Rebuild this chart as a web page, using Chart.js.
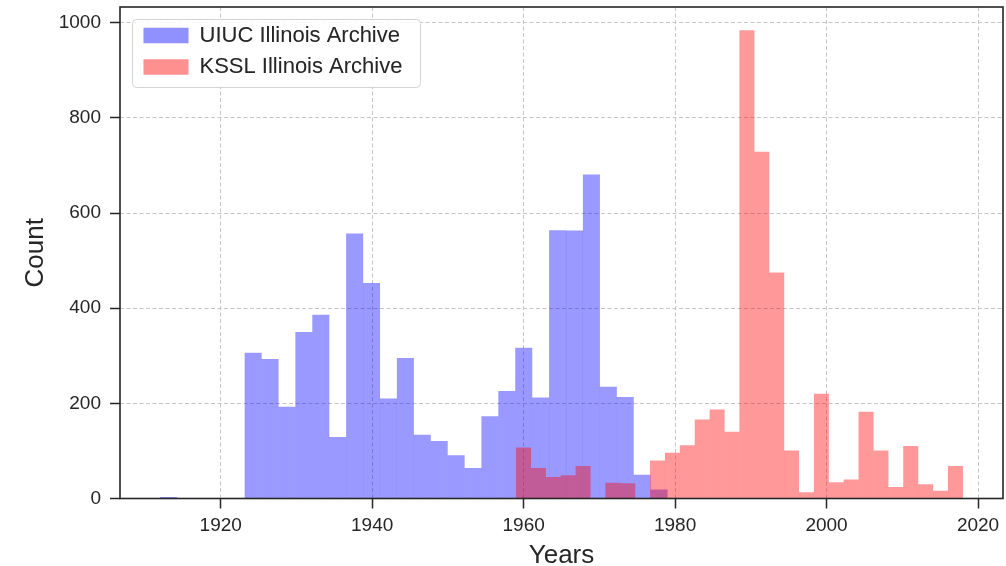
<!DOCTYPE html>
<html>
<head>
<meta charset="utf-8">
<title>UIUC and KSSL Illinois Archive sample years</title>
<script src="https://cdn.jsdelivr.net/npm/chart.js@4.4.1/dist/chart.umd.min.js"></script>
<style>
  html, body { margin: 0; padding: 0; background: #ffffff; }
  #chart { display: block; }
</style>
</head>
<body>
<canvas id="chart" width="1006" height="566"></canvas>
<script>
// Histogram data: each archive is binned into 30 equal-width bins over its own year range.
const seriesNames = ['UIUC Illinois Archive', 'KSSL Illinois Archive'];
const uiucYearRange = [1912, 1979];
const ksslYearRange = [1959, 2018];
const uiucCounts = [3, 0, 0, 0, 0, 306, 293, 193, 350, 386, 129, 557, 453, 210, 295,
                    134, 121, 91, 64, 173, 226, 317, 212, 564, 563, 681, 235, 213, 50, 19];
const ksslCounts = [107, 64, 45, 49, 68, 0, 33, 32, 0, 80, 96, 112, 166, 187, 140,
                    984, 729, 475, 101, 13, 220, 34, 40, 182, 101, 24, 110, 30, 16, 68];
const xTickValues = [1920, 1940, 1960, 1980, 2000, 2020];
const yTickValues = [0, 200, 400, 600, 800, 1000];
const xTitle = 'Years';
const yTitle = 'Count';

const FONT = "'Liberation Sans', Arial, Helvetica, sans-serif";
const INK = '#262626';

// Bin centres for a bar per bin.
function toBins(range, counts) {
  const width = (range[1] - range[0]) / counts.length;
  return counts.map((c, i) => ({ x: range[0] + (i + 0.5) * width, y: c }));
}

// Axis limits with 5% margins around the data, as a default histogram plot does.
const dataLo = Math.min(uiucYearRange[0], ksslYearRange[0]);
const dataHi = Math.max(uiucYearRange[1], ksslYearRange[1]);
const xPad = 0.05 * (dataHi - dataLo);
const xMin = dataLo - xPad;
const xMax = dataHi + xPad;
const yMax = 1.05 * Math.max(...uiucCounts, ...ksslCounts);

// Full box around the plot area plus a framed legend background.
const frameAndLegendBox = {
  id: 'frameAndLegendBox',
  afterLayout(chart) {
    const lg = chart.legend, ca = chart.chartArea;
    if (!lg) return;
    const w = lg.width, h = lg.height;
    lg.left = ca.left + 14;
    lg.top = ca.top + 8;
    lg.right = lg.left + w;
    lg.bottom = lg.top + h;
  },
  beforeDatasetsDraw(chart) {
    const ctx = chart.ctx, ca = chart.chartArea;
    const x = ca.left + 12.5, y = ca.top + 12.5, w = 288, h = 68, r = 4;
    ctx.save();
    ctx.beginPath();
    ctx.moveTo(x + r, y);
    ctx.arcTo(x + w, y, x + w, y + h, r);
    ctx.arcTo(x + w, y + h, x, y + h, r);
    ctx.arcTo(x, y + h, x, y, r);
    ctx.arcTo(x, y, x + w, y, r);
    ctx.closePath();
    ctx.fillStyle = 'rgba(255,255,255,0.85)';
    ctx.fill();
    ctx.lineWidth = 1;
    ctx.strokeStyle = '#d4d4d4';
    ctx.stroke();
    ctx.restore();
    chart.legend.draw();
  },
  afterDraw(chart) {
    const ctx = chart.ctx, ca = chart.chartArea;
    ctx.save();
    ctx.strokeStyle = INK;
    ctx.lineWidth = 1.6;
    ctx.strokeRect(ca.left, ca.top, ca.right - ca.left, ca.bottom - ca.top);
    ctx.restore();
  }
};

const gridStyle = {
  color: '#c6c6c6',
  lineWidth: 1,
  offset: false,
  drawTicks: true,
  tickLength: 10,
  tickColor: INK,
  tickWidth: 1.5,
  tickBorderDash: []
};
const borderStyle = { display: false, dash: [4, 2.5] };

new Chart(document.getElementById('chart'), {
  type: 'bar',
  data: {
    datasets: [
      {
        label: seriesNames[0],
        data: toBins(uiucYearRange, uiucCounts),
        xAxisID: 'x',
        order: 2,
        backgroundColor: 'rgba(0,0,255,0.4)',
        borderWidth: 0,
        inflateAmount: 0.06,
        grouped: false,
        barPercentage: 1,
        categoryPercentage: 1
      },
      {
        label: seriesNames[1],
        data: toBins(ksslYearRange, ksslCounts),
        xAxisID: 'x2',
        order: 1,
        backgroundColor: 'rgba(255,0,0,0.4)',
        borderWidth: 0,
        inflateAmount: 0.06,
        grouped: false,
        barPercentage: 1,
        categoryPercentage: 1
      }
    ]
  },
  options: {
    responsive: false,
    animation: false,
    events: [],
    layout: { padding: { top: 7, right: 3, left: 0, bottom: 0 } },
    scales: {
      x: {
        type: 'linear',
        position: 'bottom',
        min: xMin,
        max: xMax,
        offset: false,
        grid: gridStyle,
        border: borderStyle,
        ticks: {
          color: INK,
          font: { family: FONT, size: 19 },
          padding: 6,
          maxRotation: 0,
          callback: v => String(v)
        },
        title: {
          display: true,
          text: xTitle,
          color: INK,
          font: { family: FONT, size: 26, lineHeight: 0.8 },
          padding: { top: 0, bottom: 0 }
        },
        afterBuildTicks: s => { s.ticks = xTickValues.map(v => ({ value: v })); },
        afterFit: s => { s.height = 67.5; s.paddingLeft = 0; s.paddingRight = 0; }
      },
      x2: {
        type: 'linear',
        position: 'bottom',
        min: xMin,
        max: xMax,
        offset: false,
        display: false,
        grid: { offset: false }
      },
      y: {
        type: 'linear',
        min: 0,
        max: yMax,
        grid: gridStyle,
        border: borderStyle,
        ticks: {
          color: INK,
          font: { family: FONT, size: 19 },
          padding: 9,
          callback: v => String(v)
        },
        title: {
          display: true,
          text: yTitle,
          color: INK,
          font: { family: FONT, size: 26, lineHeight: 1.2 },
          padding: { top: 20, bottom: 0 }
        },
        afterBuildTicks: s => { s.ticks = yTickValues.map(v => ({ value: v })); },
        afterFit: s => { s.width = 120; s.paddingTop = 0; s.paddingBottom = 0; }
      }
    },
    plugins: {
      legend: {
        position: 'chartArea',
        align: 'start',
        labels: {
          boxWidth: 45,
          boxHeight: 15.6,
          padding: 9.5,
          color: INK,
          font: { family: FONT, size: 22 },
          sort: (a, b) => a.datasetIndex - b.datasetIndex
        }
      },
      tooltip: { enabled: false }
    }
  },
  plugins: [frameAndLegendBox]
});
</script>
</body>
</html>
